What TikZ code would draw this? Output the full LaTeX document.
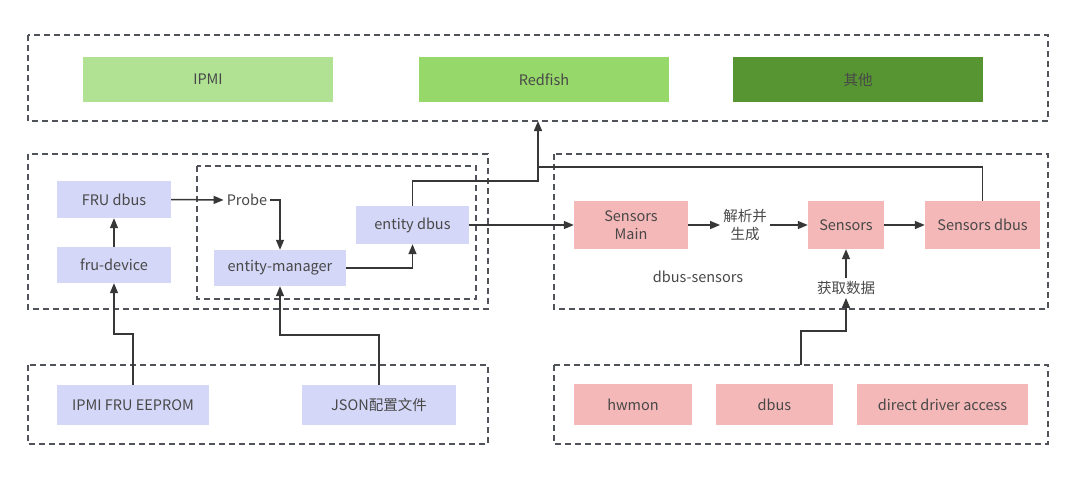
\documentclass[tikz,border=0pt]{standalone}
\usepackage{fontspec}
\setmainfont{Noto Sans CJK SC}
\usetikzlibrary{arrows.meta, positioning}

\definecolor{txtgray}{RGB}{72,72,72}
\definecolor{linegray}{RGB}{55,55,55}
\definecolor{dashgray}{RGB}{80,84,90}
\definecolor{lavender}{RGB}{212,215,247}
\definecolor{pinkbox}{RGB}{245,184,184}
\definecolor{greenA}{RGB}{177,226,148}
\definecolor{greenB}{RGB}{151,216,106}
\definecolor{greenC}{RGB}{87,148,50}

\begin{document}
\begin{tikzpicture}[x=1pt, y=-1pt, font=\fontsize{14.5}{18}\selectfont, text=txtgray,
  grp/.style={draw=dashgray, line width=1.5pt, dash pattern=on 6pt off 4pt},
  blk/.style={inner sep=0pt, align=center},
  lbl/.style={inner sep=3pt, align=center},
  arr/.style={draw=linegray, line width=1.5pt, -{Triangle[length=10pt,width=8pt]}},
  ln/.style={draw=linegray, line width=1.5pt}]
\useasboundingbox (0,0) rectangle (1080,485);

% Dashed group boxes
\draw[grp] (28,35) rectangle (1048,121);   % upper interfaces
\draw[grp] (28,154) rectangle (488,309);   % entity side
\draw[grp] (197,166) rectangle (476,299);  % entity-manager
\draw[grp] (554,154) rectangle (1048,309); % dbus-sensors
\draw[grp] (28,365) rectangle (488,444);   % config sources
\draw[grp] (554,365) rectangle (1048,444); % sensor sources

% Upper interfaces
\node[blk, fill=greenA, minimum width=250pt, minimum height=45pt] (ipmi) at (208,79.5) {IPMI};
\node[blk, fill=greenB, minimum width=250pt, minimum height=45pt] (redfish) at (544,79.5) {Redfish};
\node[blk, fill=greenC, minimum width=250pt, minimum height=45pt] (other) at (858,79.5) {其他};

% Entity side
\node[blk, fill=lavender, minimum width=114pt, minimum height=37pt] (frudbus) at (114,199.5) {FRU dbus};
\node[blk, fill=lavender, minimum width=114pt, minimum height=36pt] (frudev) at (114,265) {fru-device};
\node[lbl] (probe) at (247,200) {Probe};
\node[blk, fill=lavender, minimum width=132pt, minimum height=36pt] (entmgr) at (280,268) {entity-manager};
\node[blk, fill=lavender, minimum width=113pt, minimum height=38pt] (entdbus) at (412.5,225) {entity dbus};

% dbus-sensors
\node[blk, fill=pinkbox, minimum width=114pt, minimum height=48pt] (sensmain) at (631,225) {Sensors\\Main};
\node[lbl] (parse) at (745,225) {解析并\\生成};
\node[blk, fill=pinkbox, minimum width=76pt, minimum height=48pt] (sensors) at (846,225) {Sensors};
\node[blk, fill=pinkbox, minimum width=115pt, minimum height=48pt] (sensdbus) at (982.5,225) {Sensors dbus};
\node[lbl] (dbsens) at (698,277) {dbus-sensors};
\node[lbl] (fetch) at (846,288) {获取数据};

% Sources
\node[blk, fill=lavender, minimum width=152pt, minimum height=40pt] (eeprom) at (133,405) {IPMI FRU EEPROM};
\node[blk, fill=lavender, minimum width=154pt, minimum height=40pt] (json) at (379,405) {JSON配置文件};
\node[blk, fill=pinkbox, minimum width=118pt, minimum height=41pt] (hwmon) at (633,404.5) {hwmon};
\node[blk, fill=pinkbox, minimum width=117pt, minimum height=41pt] (dbus) at (774.5,404.5) {dbus};
\node[blk, fill=pinkbox, minimum width=171pt, minimum height=41pt] (direct) at (942.5,404.5) {direct driver access};

% Bend points
\coordinate (lj) at (114,334);
\coordinate (rj) at (280,335);
\coordinate (upbend) at (538,181);
\coordinate (uptip) at (538,121);
\coordinate (sjoin) at (538,167);
\coordinate (hwsrc) at (801,365);
\coordinate (hwbend) at (846,331);

% Connectors
\draw[arr] (eeprom.north) |- (lj) -- (frudev.south);
\draw[arr] (frudev.north) -- (frudbus.south);
\draw[arr] (json.north) |- (rj) -- (entmgr.south);
\draw[arr] (frudbus.east) -- (probe.west);
\draw[arr] (probe.east) -| (entmgr.north);
\draw[arr] (entmgr.east) -| (entdbus.south);
\draw[arr] (entdbus.east) -- (sensmain.west);
\draw[arr] (entdbus.north) |- (upbend) -- (uptip);
\draw[ln] (sensdbus.north) |- (sjoin);
\draw[arr] (sensmain.east) -- (parse.west);
\draw[arr] (parse.east) -- (sensors.west);
\draw[arr] (sensors.east) -- (sensdbus.west);
\draw[arr] (fetch.north) -- (sensors.south);
\draw[arr] (hwsrc) |- (hwbend) -- (fetch.south);

\end{tikzpicture}
\end{document}
